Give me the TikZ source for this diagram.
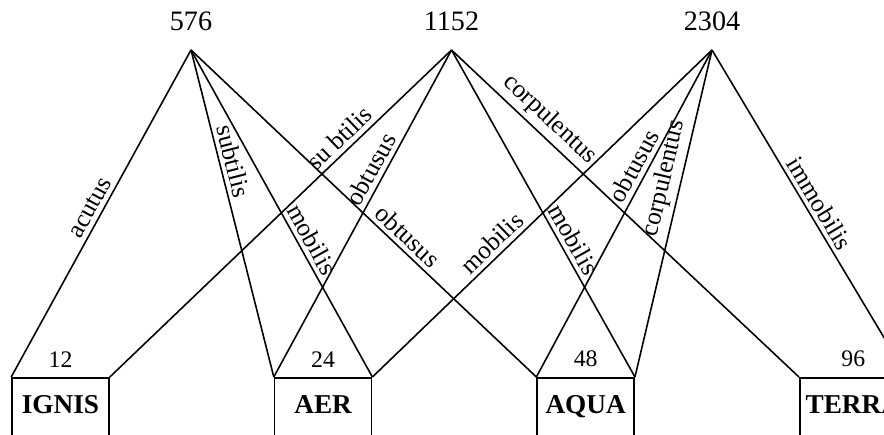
\documentclass[tikz,border=0pt]{standalone}
\usepackage{fontspec}
\setmainfont{Liberation Serif}
\usetikzlibrary{positioning}

\tikzset{
  numtop/.style={font=\fontsize{16}{19}\selectfont, inner sep=0pt},
  numbox/.style={font=\fontsize{13.5}{16}\selectfont, inner sep=0pt},
  elem/.style={draw, anchor=north, minimum width=1.94cm,
    text height=0.36cm, text depth=1.2cm, inner ysep=0.36cm,
    font=\fontsize{15.5}{18}\selectfont\bfseries},
  quality/.style={sloped, above, inner sep=2.5pt,
    font=\fontsize{14.5}{17}\selectfont},
}

\begin{document}
\begin{tikzpicture}[line width=0.9pt]
  \useasboundingbox (0,0) rectangle (17.68,-8.68);
  \clip (0,0) rectangle (17.68,-8.68);

  % the three apexes
  \coordinate (a1) at (3.82,-1.0);
  \coordinate[right=5.21cm of a1] (a2);
  \coordinate[right=5.21cm of a2] (a3);

  \node[numtop, above=0.36cm of a1] (t576) {576};
  \node[numtop, above=0.36cm of a2] (t1152) {1152};
  \node[numtop, above=0.36cm of a3] (t2304) {2304};

  % the four elements
  \node[elem] at (1.21,-7.54) (ignis) {IGNIS};
  \node[elem, right=3.28cm of ignis] (aer) {AER};
  \node[elem, right=3.28cm of aer] (aqua) {AQUA};
  \node[elem, right=3.28cm of aqua] (terra) {TERRA};

  \node[numbox, above=0.18cm of ignis.north] (n12) {12};
  \node[numbox, above=0.18cm of aer.north] (n24) {24};
  \node[numbox, above=0.18cm of aqua.north] (n48) {48};
  \node[numbox, above=0.18cm of terra.north] (n96) {96};

  % 576
  \draw (a1) -- node[quality, pos=.50] {acutus} (ignis.north west);
  \draw (a1) -- node[quality, pos=.35] {subtilis} (aer.north west);
  \draw (a1) -- node[quality, pos=.60] {mobilis} (aer.north east);
  \draw (a1) -- node[quality, pos=.60] {obtusus} (aqua.north west);

  % 1152
  \draw (a2) -- node[quality, pos=.30] {su btilis} (ignis.north east);
  \draw (a2) -- node[quality, pos=.385] {obtusus} (aer.north west);
  \draw (a2) -- node[quality, pos=.60] {mobilis} (aqua.north east);
  \draw (a2) -- node[quality, pos=.25] {corpulentus} (terra.north west);

  % 2304
  \draw (a3) -- node[quality, pos=.62] {mobilis} (aer.north east);
  \draw (a3) -- node[quality, pos=.375] {obtusus} (aqua.north west);
  \draw (a3) -- node[quality, pos=.405] {corpulentus} (aqua.north east);
  \draw (a3) -- node[quality, pos=.49] {immobilis} (terra.north east);
\end{tikzpicture}
\end{document}
